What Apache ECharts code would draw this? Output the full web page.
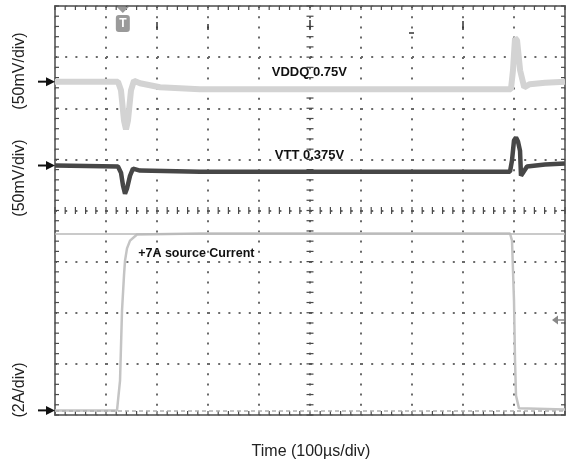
<!DOCTYPE html>
<html>
<head>
<meta charset="utf-8">
<script src="https://cdn.jsdelivr.net/npm/echarts@6/dist/echarts.min.js"></script>
<style>
html,body{margin:0;padding:0;background:#fff;}
#chart{width:569px;height:470px;}
</style>
</head>
<body>
<div id="chart"></div>
<script>
// Time in µs relative to screen centre (10 div x 100 µs/div); amplitude in screen divisions
const vddqTime = [-500,-376.5,-370.6,-364.7,-360.8,-356.9,-351,-345.1,-333.3,-294.1,-216,-20,176,394,398,402,406,412,420,431,461,500];
const vddqDiv  = [2.52,2.52,2.35,1.76,1.585,1.76,2.35,2.54,2.49,2.41,2.37,2.37,2.37,2.37,2.74,3.37,3.33,2.74,2.41,2.47,2.50,2.52];

const vttTime = [-500,-376.5,-370.6,-366.7,-362.7,-358.8,-352.9,-347.1,-333.3,-215.7,-19.6,176.5,392.2,396.1,400,403.9,407.8,411.8,413.7,417.6,425.5,460.8,500];
const vttDiv  = [0.88,0.86,0.74,0.49,0.33,0.43,0.68,0.82,0.78,0.76,0.76,0.76,0.76,0.98,1.37,1.43,1.35,1.17,0.68,0.74,0.86,0.90,0.92];

const currentTime = [-500,-378.4,-376.5,-372.5,-368.6,-364.7,-362.7,-358.8,-352.9,-339.2,-215.7,392.2,396.1,400,402,403.9,409.8,500];
const currentDiv  = [-3.91,-3.91,-3.91,-3.33,-1.96,-1.27,-0.98,-0.74,-0.59,-0.47,-0.45,-0.45,-0.59,-1.76,-2.94,-3.62,-3.87,-3.89];

const currentRefLevel = -0.45;
const currentZeroLevel = -3.91;
const vddqMarker = 2.52, vttMarker = 0.88, currentMarker = -3.91;
const triggerTime = -367;

const channelLabels = ['(50mV/div)','(50mV/div)','(2A/div)'];
const traceLabels = ['VDDQ 0.75V','VTT 0.375V','+7A source Current'];
const xTitle = 'Time (100µs/div)';

const FONT = "'Liberation Sans', Arial, sans-serif";
const chart = echarts.init(document.getElementById('chart'), null, {renderer:'canvas'});

const gridRect = {left:55, right:4, top:6, bottom:55};
const dotLine = {color:'#6a6a6a', width:2, type:[2,8.2]};

// graticule tick positions (minor divisions, 5 per division)
const xMinor = [], yMinor = [];
for (let v=-500; v<=500; v+=20) xMinor.push(v);
for (let v=-4; v<=4.0001; v+=0.2) yMinor.push(Math.round(v*10)/10);

const option = {
  backgroundColor:'#ffffff',
  animation:false,
  grid:[Object.assign({show:true, borderColor:'#777', borderWidth:2, backgroundColor:'transparent'}, gridRect)],
  xAxis:[{
    type:'value', min:-500, max:500, interval:100,
    axisLine:{show:false}, axisTick:{show:false}, axisLabel:{show:false},
    splitLine:{show:true, lineStyle:dotLine}
  }],
  yAxis:[{
    type:'value', min:-4, max:4, interval:1,
    axisLine:{show:false}, axisTick:{show:false}, axisLabel:{show:false},
    splitLine:{show:true, lineStyle:dotLine}
  }],
  series:[
    {
      name:'graticule', type:'custom', silent:true, z:2,
      data: xMinor.map(v=>[v,'x']).concat(yMinor.map(v=>[v,'y'])),
      encode:{x:-1,y:-1},
      renderItem:function(params, api){
        const v = api.value(0), kind = api.value(1);
        const els = [];
        const st = {stroke:'#4a4a4a', lineWidth:1.2};
        if (kind === 'x') {
          const c = api.coord([v,0]), t = api.coord([v,4]), b = api.coord([v,-4]);
          els.push({type:'line', shape:{x1:c[0],y1:c[1]-3.5,x2:c[0],y2:c[1]+3.5}, style:st});
          els.push({type:'line', shape:{x1:t[0],y1:t[1],x2:t[0],y2:t[1]+4}, style:st});
          els.push({type:'line', shape:{x1:b[0],y1:b[1],x2:b[0],y2:b[1]-4}, style:st});
        } else {
          const c = api.coord([0,v]), l = api.coord([-500,v]), r = api.coord([500,v]);
          els.push({type:'line', shape:{x1:c[0]-3.5,y1:c[1],x2:c[0]+3.5,y2:c[1]}, style:st});
          els.push({type:'line', shape:{x1:l[0],y1:l[1],x2:l[0]+4,y2:l[1]}, style:st});
          els.push({type:'line', shape:{x1:r[0],y1:r[1],x2:r[0]-4,y2:r[1]}, style:st});
        }
        return {type:'group', children:els};
      }
    },
    {
      name:'Current', type:'line',
      data: currentTime.map((t,i)=>[t,currentDiv[i]]),
      showSymbol:false, lineStyle:{color:'#c4c4c4', width:2.5}, z:3,
      markLine:{
        silent:true, symbol:'none', label:{show:false},
        data:[
          {yAxis:currentRefLevel, lineStyle:{color:'#b8b8b8', width:1.5, type:'solid'}},
          {yAxis:currentZeroLevel, lineStyle:{color:'#b0b0b0', width:1.5, type:[4,3]}}
        ]
      }
    },
    {
      name:'VDDQ', type:'line',
      data: vddqTime.map((t,i)=>[t,vddqDiv[i]]),
      showSymbol:false, lineStyle:{color:'#d3d3d3', width:6}, z:4
    },
    {
      name:'VTT', type:'line',
      data: vttTime.map((t,i)=>[t,vttDiv[i]]),
      showSymbol:false, lineStyle:{color:'#474747', width:4.5}, z:5
    }
  ]
};
chart.setOption(option);

function px(x,y){ return chart.convertToPixel({gridIndex:0},[x,y]); }
function arrow(level){
  const p = px(-500, level);
  const y = p[1], tip = p[0];
  return [
    {type:'line', z:100, shape:{x1:tip-17, y1:y, x2:tip-6, y2:y}, style:{stroke:'#111', lineWidth:2}},
    {type:'polygon', z:100, shape:{points:[[tip-9,y-4.5],[tip,y],[tip-9,y+4.5]]}, style:{fill:'#111'}}
  ];
}
const tp = px(triggerTime, 4);
const g = [];
g.push(...arrow(vddqMarker), ...arrow(vttMarker), ...arrow(currentMarker));
const rotY = [71, 178, 390];
channelLabels.forEach((s,i)=>{
  g.push({type:'text', z:100, x:20, y:rotY[i], rotation:Math.PI/2,
    style:{text:s, font:'16px '+FONT, fill:'#222', align:'center', verticalAlign:'middle'}});
});
const vp = px(-75, vddqMarker), vt = px(-69, vttMarker), cp = px(-337, currentRefLevel);
g.push({type:'text', z:100, x:vp[0], y:72, style:{text:traceLabels[0], font:'bold 13px '+FONT, fill:'#111', verticalAlign:'middle'}});
g.push({type:'text', z:100, x:vt[0], y:155, style:{text:traceLabels[1], font:'bold 13px '+FONT, fill:'#111', verticalAlign:'middle'}});
g.push({type:'text', z:100, x:cp[0], y:254, style:{text:traceLabels[2], font:'bold 12.5px '+FONT, fill:'#111', verticalAlign:'middle'}});
g.push({type:'text', z:100, x:311, y:452, style:{text:xTitle, font:'16px '+FONT, fill:'#222', align:'center', verticalAlign:'middle'}});
// trigger marker
g.push({type:'polygon', z:100, shape:{points:[[tp[0]-6,tp[1]+1],[tp[0]+6,tp[1]+1],[tp[0],tp[1]+7]]}, style:{fill:'#999'}});
g.push({type:'rect', z:100, shape:{x:tp[0]-7, y:tp[1]+9, width:14, height:17, r:3}, style:{fill:'#9a9a9a'}});
g.push({type:'text', z:101, x:tp[0], y:tp[1]+17.5, style:{text:'T', font:'bold 12px '+FONT, fill:'#fff', align:'center', verticalAlign:'middle'}});
// small cursor marks at top
[[-300,22,30],[-200,24,30],[0,20,30],[300,21,30]].forEach(m=>{
  const p = px(m[0],4);
  g.push({type:'line', z:100, shape:{x1:p[0], y1:m[1], x2:p[0], y2:m[2]}, style:{stroke:'#333', lineWidth:1.5}});
});
(function(){ const p = px(200,4); g.push({type:'line', z:100, shape:{x1:p[0]-3, y1:33, x2:p[0]+2, y2:33}, style:{stroke:'#333', lineWidth:1.5}}); })();
// right side ground-reference arrow
g.push({type:'polygon', z:100, shape:{points:[[552,320],[558,315.5],[558,324.5]]}, style:{fill:'#888'}});
g.push({type:'line', z:100, shape:{x1:557, y1:320, x2:564, y2:320}, style:{stroke:'#888', lineWidth:1.5}});
chart.setOption({graphic:g});
</script>
</body>
</html>
